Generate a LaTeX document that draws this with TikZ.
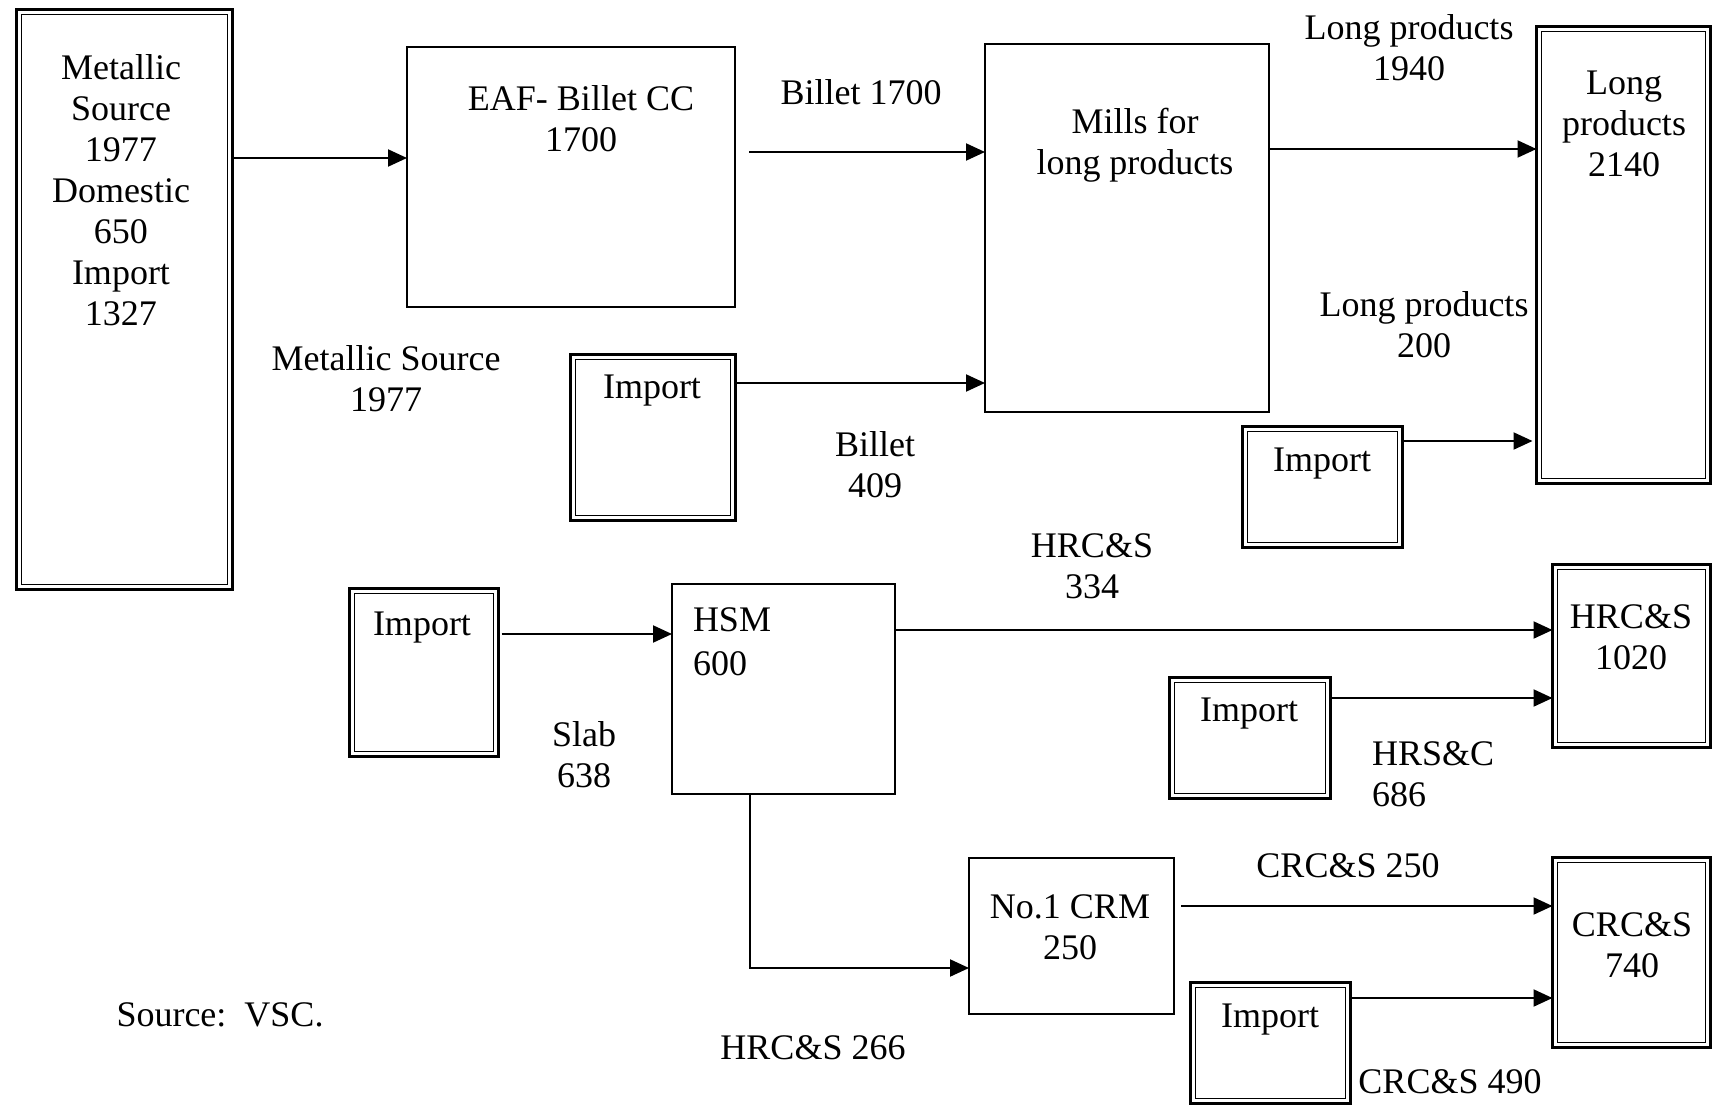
\documentclass[tikz,border=0pt]{standalone}
\usepackage{fontspec}
\setmainfont{Liberation Serif}
\usetikzlibrary{arrows.meta}
\begin{document}
\begin{tikzpicture}[x=0.5pt,y=-0.5pt,
  every node/.style={inner sep=0pt,outer sep=0pt},
  lbl/.style={align=center,font=\fontsize{18}{20.5}\selectfont},
  sbox/.style={draw,line width=0.9pt,minimum width=#1},
  dbox/.style={draw,line width=1.4pt,minimum width=#1},
  inner/.style={draw,line width=0.6pt},
  arr/.style={line width=1.05pt,-{Triangle[length=9.5pt,width=8.5pt]}}]
\useasboundingbox (0,0) rectangle (1715,1108);
% boxes
\node[dbox=108pt,minimum height=290pt] (meta) at (124.5,299.5) {};
\node[sbox=164pt,minimum height=130pt] (eaf) at (571,177) {};
\node[sbox=142pt,minimum height=184pt] (mills) at (1127,228) {};
\node[dbox=87pt,minimum height=228.5pt] (longp) at (1623.5,255) {};
\node[dbox=82.5pt,minimum height=83pt] (imp1) at (653,437.5) {};
\node[dbox=80pt,minimum height=60.5pt] (imp2) at (1322.5,487) {};
\node[dbox=74.5pt,minimum height=84pt] (imp3) at (424,672.5) {};
\node[sbox=111.5pt,minimum height=105pt] (hsm) at (783.5,689) {};
\node[dbox=79pt,minimum height=91.5pt] (hrc) at (1631.5,656) {};
\node[dbox=80.5pt,minimum height=60.5pt] (imp4) at (1250,738) {};
\node[sbox=102.5pt,minimum height=78pt] (crm) at (1071.5,936) {};
\node[dbox=79pt,minimum height=95pt] (crc) at (1631.5,952.5) {};
\node[dbox=80pt,minimum height=60.5pt] (imp5) at (1270.5,1043) {};
\foreach \n in {meta,longp,imp1,imp2,imp3,hrc,imp4,crc,imp5}
  \draw[inner] ([shift={(2.5pt,-2.5pt)}]\n.north west) rectangle ([shift={(-2.5pt,2.5pt)}]\n.south east);
% texts
\node[lbl,anchor=north] (tmeta) at (121,55) {Metallic\\Source\\1977\\Domestic\\650\\Import\\1327};
\node[lbl,anchor=north] (teaf) at (581,86) {EAF- Billet CC\\1700};
\node[lbl] (tbil) at (861,92) {Billet 1700};
\node[lbl,anchor=north] (tmills) at (1135,108) {Mills for\\long products};
\node[lbl,anchor=north] (tlp1) at (1409,15) {Long products\\1940};
\node[lbl,anchor=north] (tlongp) at (1624,71) {Long\\products\\2140};
\node[lbl,anchor=north] (tlp2) at (1424,292) {Long products\\200};
\node[lbl,anchor=north] (tms) at (386,346) {Metallic Source\\1977};
\node[lbl] (ti1) at (652,391) {Import};
\node[lbl,anchor=north] (tb409) at (875,432) {Billet\\409};
\node[lbl] (ti2) at (1322,464) {Import};
\node[lbl,anchor=north] (th334) at (1092,534) {HRC\&S\\334};
\node[lbl] (ti3) at (422,628) {Import};
\node[lbl,anchor=north west,align=left,font=\fontsize{18}{22}\selectfont] (thsm) at (693,608) {HSM\\600};
\node[lbl,anchor=north] (tslab) at (584,722) {Slab\\638};
\node[lbl,anchor=north] (thrc) at (1631,605) {HRC\&S\\1020};
\node[lbl] (ti4) at (1249,714) {Import};
\node[lbl,anchor=north west,align=left] (thrs) at (1372,742) {HRS\&C\\686};
\node[lbl,anchor=north] (tcrm) at (1070,895) {No.1 CRM\\250};
\node[lbl] (tc250) at (1348,866) {CRC\&S 250};
\node[lbl,anchor=north] (tcrc) at (1632,913) {CRC\&S\\740};
\node[lbl] (ti5) at (1270,1020) {Import};
\node[lbl] (tc490) at (1450,1082) {CRC\&S 490};
\node[lbl] (th266) at (813,1048) {HRC\&S 266};
\node[lbl] (tsrc) at (220,1015) {Source:\ \ VSC.};
% connectors
\draw[arr] (meta.east |- 0,158) -- (eaf.west |- 0,158);
\draw[arr,shorten <=7pt] (eaf.east |- 0,152) -- (mills.west |- 0,152);
\draw[arr] (imp1.east |- 0,383) -- (mills.west |- 0,383);
\draw[arr] (mills.east |- 0,149) -- (longp.west |- 0,149);
\draw[arr,shorten >=2pt] (imp2.east |- 0,441) -- (longp.west |- 0,441);
\draw[arr,shorten <=1.5pt] (imp3.east |- 0,634) -- (hsm.west |- 0,634);
\draw[arr] (hsm.east |- 0,630) -- (hrc.west |- 0,630);
\draw[arr] (imp4.east |- 0,698) -- (hrc.west |- 0,698);
\draw[arr] (hsm.south -| 750,0) |- (crm.west |- 0,968);
\draw[arr,shorten <=3.5pt] (crm.east |- 0,906) -- (crc.west |- 0,906);
\draw[arr] (imp5.east |- 0,998) -- (crc.west |- 0,998);
\end{tikzpicture}
\end{document}
